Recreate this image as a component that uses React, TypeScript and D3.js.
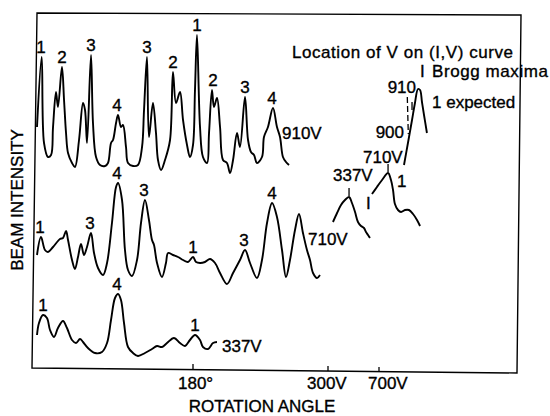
import React from "react";
import * as d3 from "d3";

// Rotation-angle scans (angle in degrees, intensity in arbitrary units above each trace's baseline)
const scan910: [number, number][] = [
  [0, 43], [5.4, 113], [8.1, 27], [12.7, 13], [16.2, 15], [18.5, 43], [21.9, 78], [24.2, 63],
  [28.8, 103], [31.2, 70], [33.5, 37], [35.8, 17], [40.4, 7], [43.8, 3], [48.5, 30], [53.1, 67],
  [55.4, 60], [57.7, 27], [62.3, 115], [64.6, 47], [68.1, 13], [72.7, 5], [78.5, 4], [81.9, 7],
  [85.4, 27], [87.7, 30], [91.2, 47], [93.5, 55], [96.9, 43], [99.2, 45], [102.7, 23], [105, 7],
  [110.8, 4], [116.5, 5], [121.2, 23], [123.5, 60], [126.9, 113], [129.2, 33], [133.8, 67],
  [137.3, 37], [139.6, 10], [143.1, 0], [147.7, 10], [153.5, 30], [156.9, 98], [160.4, 67],
  [165, 78], [168.5, 50], [173.1, 25], [176.5, 13], [180, 25], [182.3, 80], [184.6, 135],
  [188.1, 43], [191.5, 13], [196.2, 7], [198.5, 37], [201.9, 80], [204.2, 63], [207.7, 72],
  [211.2, 43], [214.6, 10], [219.2, 7], [222.7, -3], [226.2, 10], [230.8, 37], [234.2, 23],
  [240, 73], [243.5, 30], [246.9, 18], [250.4, 15], [253.8, 7], [259.6, 13], [261.9, 33],
  [266.5, 43], [272.3, 62], [276.9, 43], [280.4, 33], [283.8, 13], [287.3, 8], [290.8, 5],
];

const scan710: [number, number][] = [
  [0, 30], [4.6, 48], [9.2, 35], [12.7, 33], [18.5, 38], [26.5, 46], [30, 47], [33.5, 54],
  [35.8, 45], [40.4, 25], [43.8, 16], [47.3, 28], [50.8, 41], [54.2, 30], [57.7, 38], [62.3, 52],
  [65.8, 32], [70.4, 17], [76.2, 10], [80.8, 22], [86.5, 62], [91.2, 98], [93.5, 102], [98.1, 85],
  [101.5, 35], [105, 15], [109.6, 9], [115.4, 25], [120, 62], [124.6, 85], [129.2, 65],
  [132.7, 45], [135, 40], [138.5, 22], [144.2, 8], [148.8, 22], [151.2, 32], [156.9, 30],
  [162.7, 28], [168.5, 25], [174.2, 23], [180, 28], [183.5, 23], [188.1, 22], [193.8, 23],
  [199.6, 26], [205.4, 22], [211.2, 12], [219.2, 1], [226.2, 12], [234.2, 25], [240, 35],
  [245.8, 22], [253.8, 7], [259.6, 25], [265.4, 62], [271.2, 82], [276.9, 68], [282.7, 35],
  [287.3, 8], [291.9, 25], [297.7, 55], [302.3, 71], [306.9, 52], [311.5, 35], [315, 25],
  [318.5, 12], [323.1, 7], [326.5, 10],
];

const scan337: [number, number][] = [
  [0, 22], [2.3, 34], [6.9, 42], [11.5, 39], [15, 27], [19.6, 20], [24.2, 29], [30, 36],
  [34.6, 29], [40.4, 17], [45, 14], [49.6, 18], [53.1, 15], [58.8, 9], [66.9, 4], [75, 5],
  [80.8, 14], [85.4, 37], [90, 59], [93.5, 63], [96.9, 57], [100.4, 34], [105, 10], [110.8, 4],
  [116.5, 1], [124.6, 4], [132.7, 8], [138.5, 11], [144.2, 10], [150, 14], [158.1, 19],
  [165, 14], [170.8, 11], [176.5, 17], [182.3, 22], [188.1, 17], [191.5, 10], [197.3, 8],
  [203.1, 14], [207.7, 15],
];

// Peak order labels: [angle, label]
const peaks910: [number, string][] = [
  [4.6, "1"], [28.8, "2"], [62.3, "3"], [92.3, "4"], [126.9, "3"],
  [157, "2"], [184.6, "1"], [203.1, "2"], [240, "3"], [271.2, "4"],
];
const peaks710: [number, string][] = [
  [3.5, "1"], [61.2, "3"], [92.3, "4"], [123.5, "3"], [180, "1"], [238.8, "3"], [271.2, "4"],
];
const peaks337: [number, string][] = [[6.9, "1"], [92.3, "4"], [182.3, "1"]];

// Pieces of the (I,V) curve (voltage, intensity)
const iv337: [number, number][] = [
  [339, 18], [371, 27], [402, 35], [433, 40], [465, 43], [488, 37], [512, 28], [535, 18],
  [559, 14], [582, 12], [598, 8], [614, 5], [629, 2],
];
const iv710: [number, number][] = [
  [645, 46], [684, 53], [724, 60], [771, 67], [794, 60], [810, 50], [825, 36], [849, 30],
  [873, 28], [904, 30], [935, 30], [967, 26], [998, 20], [1022, 14],
];
const iv910: [number, number][] = [
  [896, 75], [927, 97], [959, 120], [982, 137], [1006, 151], [1022, 150], [1037, 138],
  [1053, 125], [1076, 107],
];
// Voltage markers on the (I,V) pieces: [voltage, low, high]
const ivMarks: [number, number, number][] = [[465, 44, 52], [771, 68, 76], [959, 130, 138]];
const ivDashed: [number, number, number] = [922, 106, 143];

const angleTicks = [180];
const voltTicks = [300, 700];

const FONT = "'Liberation Sans', Arial, Helvetica, sans-serif";

export default function App() {
  const W = 550;
  const H = 416;

  const x = d3.scaleLinear().domain([0, 180]).range([37, 193]);
  const xv = d3.scaleLinear().domain([300, 700]).range([328, 379]);

  const yFor = (base: number) => d3.scaleLinear().domain([0, 100]).range([base, base - 100]);
  const y910 = yFor(170);
  const y710 = yFor(285);
  const y337 = yFor(357);
  const yIV = yFor(240);

  const mkLine = (xs: d3.ScaleLinear<number, number>, ys: d3.ScaleLinear<number, number>) =>
    d3
      .line<[number, number]>()
      .x((d) => xs(d[0]))
      .y((d) => ys(d[1]))
      .curve(d3.curveCatmullRom.alpha(0.5));

  const peakValue = (data: [number, number][], a: number) =>
    d3.max(data.filter((d) => Math.abs(d[0] - a) <= 4), (d) => d[1]) ?? 0;

  const traces = [
    { data: scan910, y: y910, peaks: peaks910 },
    { data: scan710, y: y710, peaks: peaks710 },
    { data: scan337, y: y337, peaks: peaks337 },
  ];

  const ivLine = mkLine(xv, yIV);
  const txt = {
    fontFamily: FONT,
    fontSize: 17,
    fill: "#000",
    stroke: "#000",
    strokeWidth: 0.35,
  } as const;

  return (
    <svg width={W} height={H} style={{ position: "absolute", left: 0, top: 0, background: "#fff" }}>
      {/* frame */}
      <path d="M37,13 L521,15 L517,373 L32,368 Z" fill="none" stroke="#000" strokeWidth={1.4} />
      {angleTicks.map((t) => (
        <line key={t} x1={x(t)} x2={x(t)} y1={369.5} y2={364} stroke="#000" strokeWidth={1.3} />
      ))}
      {voltTicks.map((t, i) => (
        <line key={t} x1={xv(t)} x2={xv(t)} y1={371 + i} y2={366 + i} stroke="#000" strokeWidth={1.3} />
      ))}

      {/* scans */}
      {traces.map((tr, i) => (
        <g key={i}>
          <path d={mkLine(x, tr.y)(tr.data) ?? ""} fill="none" stroke="#000" strokeWidth={1.9} strokeLinejoin="round" />
          {tr.peaks.map(([a, s], j) => (
            <text key={j} x={x(a)} y={tr.y(peakValue(tr.data, a)) - 4} textAnchor="middle" {...txt}>
              {s}
            </text>
          ))}
        </g>
      ))}
      <text x={282} y={139} {...txt}>910V</text>
      <text x={308} y={245} {...txt}>710V</text>
      <text x={222} y={352} {...txt}>337V</text>

      {/* (I,V) pieces */}
      {[iv337, iv710, iv910].map((d, i) => (
        <path key={i} d={ivLine(d) ?? ""} fill="none" stroke="#000" strokeWidth={1.9} strokeLinejoin="round" />
      ))}
      {ivMarks.map(([v, lo, hi], i) => (
        <line key={i} x1={xv(v)} x2={xv(v)} y1={yIV(lo)} y2={yIV(hi)} stroke="#000" strokeWidth={1.3} />
      ))}
      <line
        x1={xv(ivDashed[0])} x2={xv(ivDashed[0]) + 1}
        y1={yIV(ivDashed[2])} y2={yIV(ivDashed[1])}
        stroke="#000" strokeWidth={1.3} strokeDasharray="6,3"
      />
      <text x={292} y={58} textLength={221} lengthAdjust="spacing" {...txt}>Location of V on (I,V) curve</text>
      <text x={420} y={77} {...txt}>I</text>
      <text x={432} y={77} textLength={116} lengthAdjust="spacing" {...txt}>Brogg maxima</text>
      <text x={432} y={108} {...txt}>1 expected</text>
      <text x={416} y={93} textAnchor="end" {...txt}>910</text>
      <text x={404} y={138} textAnchor="end" {...txt}>900</text>
      <text x={363} y={163} {...txt}>710V</text>
      <text x={333} y={181} {...txt}>337V</text>
      <text x={397} y={187} {...txt}>1</text>
      <text x={366} y={209} {...txt}>I</text>

      {/* axis labels */}
      <text x={178} y={389} {...txt}>180°</text>
      <text x={307} y={389} {...txt}>300V</text>
      <text x={368} y={389} {...txt}>700V</text>
      <text x={262} y={412} textAnchor="middle" {...txt}>ROTATION ANGLE</text>
      <text transform="translate(23,200) rotate(-90)" textAnchor="middle" {...txt}>BEAM INTENSITY</text>
    </svg>
  );
}
